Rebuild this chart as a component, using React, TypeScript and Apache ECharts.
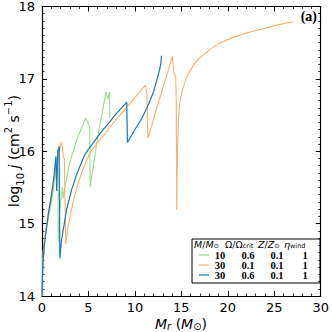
import React, { useEffect, useRef } from "react";
import * as echarts from "echarts";

const xTicks = [0, 5, 10, 15, 20, 25, 30];
const yTicks = [14, 15, 16, 17, 18];

const greenX = [0, 0.1, 0.3, 0.8, 1.2, 1.5, 1.7, 1.75, 1.9, 2.05, 2.2, 2.3, 2.45, 3.0, 3.8, 4.7, 4.95, 5.13, 5.18, 6.0, 6.9, 7.09, 7.27, 7.3];
const greenY = [14.0, 14.4, 14.82, 15.14, 15.46, 15.75, 15.98, 14.75, 15.15, 15.35, 15.5, 15.35, 15.5, 15.85, 16.18, 16.46, 16.39, 16.34, 15.5, 16.2, 16.82, 16.72, 16.82, 16.47];

const orangeX = [0, 0.1, 0.5, 1.0, 1.5, 1.8, 2.07, 2.2, 2.3, 2.4, 2.56, 2.8, 3.1, 3.5, 4.0, 4.5, 5.13, 6.0, 7.0, 8.0, 9.0, 10.0, 11.11, 11.29, 11.4, 12.0, 12.5, 13.0, 13.5, 14.03, 14.2, 14.39, 14.45, 14.5, 14.55, 14.6, 14.67, 14.8, 15.1, 15.5, 15.81, 16.3, 16.88, 17.95, 19.02, 20.5, 22.2, 24.0, 25.5, 27.03];
const orangeY = [14.0, 14.6, 15.0, 15.4, 15.75, 15.95, 16.13, 16.05, 15.92, 15.9, 14.72, 14.95, 15.15, 15.38, 15.6, 15.78, 15.97, 16.12, 16.28, 16.44, 16.59, 16.74, 16.91, 16.8, 16.18, 16.44, 16.66, 16.87, 17.08, 17.31, 17.07, 17.03, 16.7, 15.19, 15.7, 16.1, 16.38, 16.65, 16.84, 17.0, 17.09, 17.19, 17.28, 17.39, 17.49, 17.57, 17.64, 17.7, 17.75, 17.79];

const blueX = [0, 0.05, 0.1, 0.25, 0.46, 0.7, 1.0, 1.25, 1.5, 1.58, 1.7, 1.85, 1.92, 2.1, 2.4, 2.64, 3.17, 3.7, 4.2, 4.6, 5.0, 5.66, 6.2, 7.0, 8.0, 9.12, 9.2, 10.0, 10.5, 11.0, 11.5, 12.0, 12.4, 12.7, 12.8, 12.86];
const blueY = [14.0, 14.3, 14.45, 14.7, 14.91, 15.15, 15.37, 15.62, 15.93, 15.45, 16.0, 16.07, 14.52, 14.77, 15.0, 15.19, 15.46, 15.67, 15.83, 15.95, 16.03, 16.14, 16.24, 16.36, 16.52, 16.68, 16.12, 16.3, 16.4, 16.52, 16.66, 16.82, 17.0, 17.15, 17.22, 17.32];

const legendMass = ["10", "30", "30"];
const legendOmega = ["0.6", "0.1", "0.6"];
const legendZ = ["0.1", "0.1", "0.1"];
const legendEta = ["1", "1", "1"];
const colors = ["#98df8a", "#fdae6b", "#1f77b4"];

const zip = (xs: number[], ys: number[]) => xs.map((x, i) => [x, ys[i]]);

export default function App() {
  const ref = useRef<HTMLDivElement>(null);
  useEffect(() => {
    if (!ref.current) return;
    const chart = echarts.init(ref.current, null, { renderer: "svg" });
    const sans = "DejaVu Sans";
    const serif = "Liberation Serif";
    const axisCommon = {
      min: 0,
      max: 30,
      interval: 5,
      axisLine: { show: true, onZero: false, lineStyle: { color: "#000", width: 1.2 } },
      axisTick: { show: true, inside: true, length: 5, lineStyle: { color: "#000", width: 1 } },
      minorTick: { show: true, splitNumber: 5, length: 2.5, lineStyle: { color: "#000", width: 0.8 } },
      splitLine: { show: false },
    };
    const yCommon = {
      min: 14,
      max: 18,
      interval: 1,
      axisLine: { show: true, onZero: false, lineStyle: { color: "#000", width: 1.2 } },
      axisTick: { show: true, inside: true, length: 5, lineStyle: { color: "#000", width: 1 } },
      minorTick: { show: true, splitNumber: 10, length: 2.5, lineStyle: { color: "#000", width: 0.8 } },
      splitLine: { show: false },
    };
    const lx = 192, ly = 239, lw = 128, lh = 44;
    const colX = [220, 248, 277, 305];
    const rowY = [255, 265, 275];
    const hdrRich = {
      i: { fontFamily: sans, fontStyle: "italic", fontSize: 9.5, fill: "#000", lineHeight: 9 },
      n: { fontFamily: sans, fontSize: 9.5, fill: "#000", lineHeight: 9 },
      s: { fontFamily: sans, fontSize: 6.5, fill: "#000", verticalAlign: "bottom", lineHeight: 9 },
    };
    const hdr = (x: number, text: string) => ({
      type: "text", x, y: 244.5,
      style: { text, textVerticalAlign: "middle", textAlign: "left", lineHeight: 9, rich: hdrRich },
    });
    const legendEls: any[] = [
      { type: "rect", shape: { x: lx, y: ly, width: lw, height: lh }, style: { fill: "#fff", stroke: "#000", lineWidth: 1 } },
      hdr(194, "{i|M}{n|/}{i|M}{s|⊙}"),
      hdr(225, "{n|Ω/Ω}{s|crit}"),
      hdr(258, "{i|Z}{n|/}{i|Z}{s|⊙}"),
      hdr(284, "{i|η}{s|wind}"),
    ];
    rowY.forEach((y, i) => {
      legendEls.push({ type: "line", shape: { x1: 199, y1: y, x2: 209, y2: y }, style: { stroke: colors[i], lineWidth: 1.2 } });
      [legendMass[i], legendOmega[i], legendZ[i], legendEta[i]].forEach((t, j) => {
        legendEls.push({
          type: "text", x: colX[j], y,
          style: { text: t, fontFamily: serif, fontWeight: "bold", fontSize: 10.5, lineHeight: 9, fill: "#000", textAlign: "center", textVerticalAlign: "middle" },
        });
      });
    });

    chart.setOption({
      animation: false,
      backgroundColor: "#fff",
      grid: { left: 42, right: 10, top: 6, bottom: 36, containLabel: false },
      xAxis: [
        {
          ...axisCommon, type: "value", position: "bottom",
          axisLabel: { show: true, fontFamily: sans, fontSize: 13, color: "#000", margin: 5, lineHeight: 13 },
        },
        { ...axisCommon, type: "value", position: "top", axisLabel: { show: false } },
      ],
      yAxis: [
        {
          ...yCommon, type: "value", position: "left",
          axisLabel: { show: true, fontFamily: sans, fontSize: 13, color: "#000", margin: 7 },
        },
        { ...yCommon, type: "value", position: "right", axisLabel: { show: false } },
      ],
      series: [
        { type: "line", data: zip(greenX, greenY), showSymbol: false, lineStyle: { color: colors[0], width: 1.1 }, itemStyle: { color: colors[0] } },
        { type: "line", data: zip(orangeX, orangeY), showSymbol: false, lineStyle: { color: colors[1], width: 1.1 }, itemStyle: { color: colors[1] } },
        { type: "line", data: zip(blueX, blueY), showSymbol: false, lineStyle: { color: colors[2], width: 1.2 }, itemStyle: { color: colors[2] } },
      ],
      graphic: [
        {
          type: "text", x: 181, y: 323.5,
          style: {
            text: "{i|M}{s|r}{n| (}{i|M}{s|⊙}{n|)}", textAlign: "center", textVerticalAlign: "middle", lineHeight: 16,
            rich: {
              i: { fontFamily: sans, fontStyle: "italic", fontSize: 14, fill: "#000", lineHeight: 16 },
              n: { fontFamily: sans, fontSize: 14, fill: "#000", lineHeight: 16 },
              s: { fontFamily: sans, fontStyle: "italic", fontSize: 10, fill: "#000", verticalAlign: "bottom", lineHeight: 16 },
            },
          },
        },
        {
          type: "text", x: 14, y: 151, rotation: Math.PI / 2,
          style: {
            text: "{n|log}{s|10}{i| j}{n| (cm}{p|2}{n| s}{p|−1}{n|)}", textAlign: "center", textVerticalAlign: "middle",
            rich: {
              i: { fontFamily: sans, fontStyle: "italic", fontSize: 14, fill: "#000" },
              n: { fontFamily: sans, fontSize: 14, fill: "#000" },
              s: { fontFamily: sans, fontSize: 10, fill: "#000", verticalAlign: "bottom", lineHeight: 22 },
              p: { fontFamily: sans, fontSize: 10, fill: "#000", verticalAlign: "top", lineHeight: 22 },
            },
          },
        },
        {
          type: "text", x: 317, y: 16,
          style: { text: "(a)", fontFamily: serif, fontWeight: "bold", fontSize: 14, fill: "#000", textAlign: "right", textVerticalAlign: "middle" },
        },
        ...legendEls,
      ],
    });
    return () => chart.dispose();
  }, []);
  return <div ref={ref} style={{ position: "fixed", left: 0, top: 0, width: 332, height: 332 }} />;
}
